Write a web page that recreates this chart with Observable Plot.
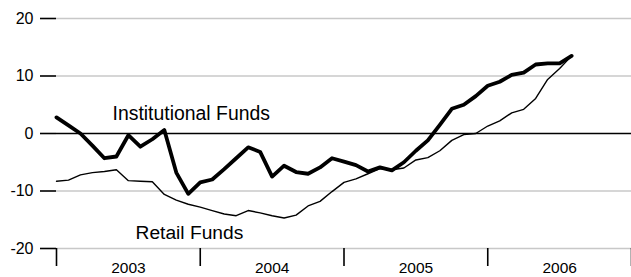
<!DOCTYPE html>
<html>
<head>
<meta charset="utf-8">
<script src="https://cdn.jsdelivr.net/npm/d3@7"></script>
<script src="https://cdn.jsdelivr.net/npm/@observablehq/plot@0.6"></script>
<style>
  html, body { margin: 0; padding: 0; background: #fff; }
  svg { display: block; }
</style>
</head>
<body>
<div id="chart"></div>
<script>
// Monthly values, Jan 2003 – Aug 2006
const startYear = 2003;
const institutional = [
  2.8, 1.4, 0.0, -2.1, -4.3, -4.0, -0.3, -2.3, -1.0, 0.6, -6.8, -10.5,
  -8.5, -8.0, -6.2, -4.3, -2.4, -3.2, -7.5, -5.6, -6.7, -7.0, -5.9, -4.3,
  -4.9, -5.5, -6.6, -5.9, -6.4, -5.0, -3.0, -1.2, 1.5, 4.3, 5.0, 6.5,
  8.3, 9.0, 10.2, 10.6, 12.0, 12.2, 12.2, 13.5
];
const retail = [
  -8.3, -8.1, -7.2, -6.8, -6.6, -6.3, -8.2, -8.3, -8.4, -10.6, -11.6, -12.3,
  -12.8, -13.4, -14.0, -14.3, -13.4, -13.8, -14.3, -14.7, -14.2, -12.6, -11.8, -10.1,
  -8.5, -7.9, -7.0, -6.1, -6.3, -6.0, -4.6, -4.2, -3.0, -1.2, -0.2, 0.0,
  1.3, 2.2, 3.6, 4.2, 6.1, 9.4, 11.3, 13.5
];
const yTicks = [-20, -10, 0, 10, 20];
const yearBounds = [2003, 2004, 2005, 2006, 2007];
const yearLabels = ["2003", "2004", "2005", "2006"];
const seriesNames = ["Institutional Funds", "Retail Funds"];

const instData = institutional.map((v, i) => ({t: startYear + i / 12, v}));
const retData = retail.map((v, i) => ({t: startYear + i / 12, v}));
const yearMid = yearLabels.map(s => ({t: +s + 0.5, label: s}));

const font = "'Liberation Sans', Arial, Helvetica, sans-serif";

const chart = Plot.plot({
  width: 631,
  height: 277,
  marginLeft: 56,
  marginRight: 0,
  marginTop: 18,
  marginBottom: 29,
  style: {fontFamily: font, fontSize: "16px", color: "#000", background: "#fff", overflow: "visible"},
  x: {domain: [2003, 2007], axis: null},
  y: {domain: [-20, 20], axis: null},
  marks: [
    Plot.ruleY(yTicks.filter(d => d !== 0), {stroke: "#c8c8c8", strokeWidth: 1.5}),
    Plot.axisY({ticks: yTicks, tickSize: 16, tickPadding: 7, tickFormat: d => String(d), stroke: "#000", strokeWidth: 1.6, strokeOpacity: 1, fontSize: 16, label: null}),
    Plot.ruleY([0], {stroke: "#000", strokeWidth: 1.6}),
    Plot.axisX({ticks: yearBounds, tickSize: 18, tickFormat: () => "", stroke: "#000", strokeWidth: 1.6, strokeOpacity: 1, label: null}),
    Plot.text(yearMid, {x: "t", frameAnchor: "bottom", text: "label", dy: 20, fontSize: 15.5, textAnchor: "middle", lineAnchor: "middle", fill: "#000"}),
    Plot.line(retData, {x: "t", y: "v", stroke: "#000", strokeWidth: 1.4, strokeLinejoin: "round"}),
    Plot.line(instData, {x: "t", y: "v", stroke: "#000", strokeWidth: 3.8, strokeLinejoin: "round", strokeLinecap: "round"}),
    Plot.text([seriesNames[0]], {x: 2003.39, y: 3.4, text: d => d, textAnchor: "start", lineAnchor: "middle", fontSize: 19.4, fill: "#000"}),
    Plot.text([seriesNames[1]], {x: 2003.55, y: -17.3, text: d => d, textAnchor: "start", lineAnchor: "middle", fontSize: 19.2, fill: "#000"})
  ]
});
document.getElementById("chart").appendChild(chart);
</script>
</body>
</html>
